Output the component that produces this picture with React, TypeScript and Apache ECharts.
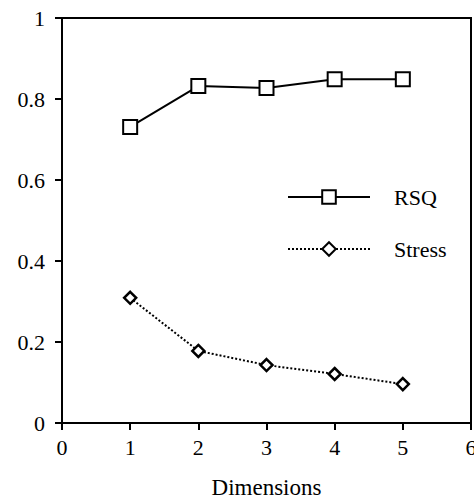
import React, { useEffect, useRef } from "react";
import * as echarts from "echarts";

const dimensions = [1, 2, 3, 4, 5];
const rsq = [0.731, 0.832, 0.827, 0.849, 0.849];
const stress = [0.309, 0.178, 0.143, 0.121, 0.096];
const seriesNames = ["RSQ", "Stress"];
const xTitle = "Dimensions";

const FONT = "Liberation Serif";

export default function App() {
  const ref = useRef<HTMLDivElement>(null);
  useEffect(() => {
    if (!ref.current) return;
    const chart = echarts.init(ref.current, null, { renderer: "svg" });
    chart.setOption({
      animation: false,
      backgroundColor: "#fff",
      textStyle: { fontFamily: FONT },
      grid: {
        left: 62,
        right: 3,
        top: 18,
        bottom: 79,
        show: true,
        borderColor: "#000",
        borderWidth: 2,
        containLabel: false,
        outerBoundsMode: "none",
      },
      legend: {
        orient: "vertical",
        left: 287,
        top: 186,
        padding: 0,
        itemWidth: 82,
        itemHeight: 17,
        itemGap: 30,
        data: seriesNames,
        textStyle: {
          fontFamily: FONT,
          fontSize: 22,
          color: "#000",
          padding: [0, 0, 0, 19],
        },
      },
      xAxis: {
        type: "value",
        min: 0,
        max: 6,
        interval: 1,
        name: xTitle,
        nameLocation: "middle",
        nameGap: 53,
        nameTextStyle: { fontFamily: FONT, fontSize: 23, color: "#000" },
        axisLine: { show: true, lineStyle: { color: "#000", width: 2 } },
        axisTick: { show: true, inside: false, length: 7, lineStyle: { color: "#000", width: 2 } },
        axisLabel: { fontFamily: FONT, fontSize: 22, color: "#000", margin: 13 },
        splitLine: { show: false },
      },
      yAxis: {
        type: "value",
        min: 0,
        max: 1,
        interval: 0.2,
        axisLine: { show: true, lineStyle: { color: "#000", width: 2 } },
        axisTick: { show: true, inside: false, length: 7, lineStyle: { color: "#000", width: 2 } },
        axisLabel: { fontFamily: FONT, fontSize: 22, color: "#000", margin: 17 },
        splitLine: { show: false },
      },
      series: [
        {
          name: seriesNames[0],
          type: "line",
          data: dimensions.map((d, i) => [d, rsq[i]]),
          symbol: "rect",
          symbolSize: 14,
          lineStyle: { color: "#000", width: 2, type: "solid" },
          itemStyle: { color: "#fff", borderColor: "#000", borderWidth: 2 },
        },
        {
          name: seriesNames[1],
          type: "line",
          data: dimensions.map((d, i) => [d, stress[i]]),
          symbol: "diamond",
          symbolSize: 12,
          lineStyle: { color: "#000", width: 2, type: "dotted" },
          itemStyle: { color: "#fff", borderColor: "#000", borderWidth: 2.5 },
        },
      ],
    });
    return () => chart.dispose();
  }, []);
  return (
    <div
      ref={ref}
      style={{ position: "fixed", left: 0, top: 0, width: 474, height: 502, background: "#fff" }}
    />
  );
}
